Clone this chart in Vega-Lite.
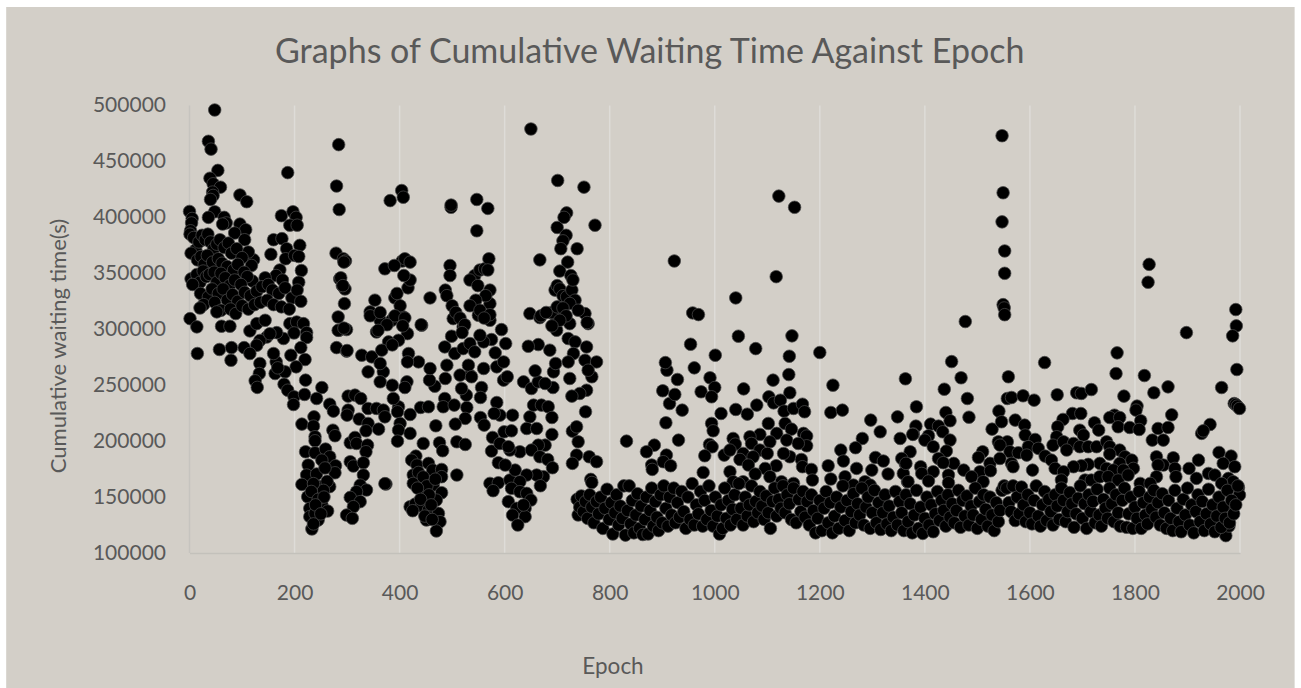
{"$schema":"https://vega.github.io/schema/vega-lite/v6.json","width":1050.5,"height":447.5,"autosize":"none","padding":{"left":189.5,"top":105.5,"right":61,"bottom":135},"background":"#ffffff","config":{"view":{"stroke":null},"font":"Lato"},
"title":{"text":"Graphs of Cumulative Waiting Time Against Epoch","font":"Lato","fontSize":34,"fontWeight":"normal","color":"#595959","anchor":"middle","dx":-65,"offset":-63,"zindex":1},
"layer":[
{"data":{"values":[{"a":-349,"b":2104,"c":588000,"d":-21000}]},"mark":{"type":"rect","color":"#D3CFC8","clip":false},"encoding":{"x":{"field":"a","type":"quantitative","scale":{"domain":[0,2000],"nice":false},"axis":{"values":[0,200,400,600,800,1000,1200,1400,1600,1800,2000],"format":"d","labelFlush":false,"labelOverlap":false,"grid":false,"ticks":false,"domain":true,"domainColor":"#C3C1BB","domainWidth":1.5,"labelFont":"Lato","labelFontSize":21,"labelColor":"#595959","labelPadding":29,"title":"Epoch","titleFont":"Lato","titleFontSize":22.5,"titleFontWeight":"normal","titleColor":"#595959","titleX":423,"titleY":102,"zindex":1}},"x2":{"field":"b"},"y":{"field":"c","type":"quantitative","scale":{"domain":[100000,500000],"nice":false},"axis":{"values":[100000,150000,200000,250000,300000,350000,400000,450000,500000],"labelOverlap":false,"grid":false,"ticks":false,"domain":false,"format":"d","labelFont":"Lato","labelFontSize":21,"labelColor":"#595959","labelPadding":24,"title":"Cumulative waiting time(s)","titleFont":"Lato","titleFontSize":22,"titleFontWeight":"normal","titleColor":"#595959","titleX":-119,"titleY":240,"zindex":1}},"y2":{"field":"d"}}},
{"data":{"values":[{"epoch":200},{"epoch":400},{"epoch":600},{"epoch":800},{"epoch":1000},{"epoch":1200},{"epoch":1400},{"epoch":1600},{"epoch":1800},{"epoch":2000}]},"mark":{"type":"rule","color":"#DEDCD8","strokeWidth":1.5},"encoding":{"x":{"field":"epoch","type":"quantitative"},"y":{"datum":100000},"y2":{"datum":500000}}},
{"data":{"values":[{"epoch":0}]},"mark":{"type":"rule","color":"#C6C4BF","strokeWidth":1.5},"encoding":{"x":{"field":"epoch","type":"quantitative"},"y":{"datum":100000},"y2":{"datum":500000}}},
{"data":{"values":[
{"epoch":48,"wait":496000},{"epoch":36,"wait":468000},{"epoch":41,"wait":461000},{"epoch":54,"wait":442000},{"epoch":39,"wait":435000},{"epoch":45,"wait":430000},{"epoch":59,"wait":427000},{"epoch":44,"wait":422600},{"epoch":45,"wait":419600},{"epoch":40,"wait":416000},{"epoch":96,"wait":420000},{"epoch":109,"wait":414000},{"epoch":0,"wait":405300},{"epoch":5,"wait":399000},{"epoch":4,"wait":395000},{"epoch":2,"wait":388000},{"epoch":1,"wait":385000},{"epoch":48,"wait":405000},{"epoch":36,"wait":400000},{"epoch":66,"wait":400000},{"epoch":70,"wait":395000},{"epoch":63,"wait":394000},{"epoch":175,"wait":401500},{"epoch":197,"wait":405000},{"epoch":203,"wait":400000},{"epoch":191,"wait":393000},{"epoch":205,"wait":393000},{"epoch":187,"wait":440000},{"epoch":284,"wait":465000},{"epoch":280,"wait":428000},{"epoch":285,"wait":407000},{"epoch":96,"wait":394000},{"epoch":107,"wait":389000},{"epoch":86,"wait":386000},{"epoch":105,"wait":380000},{"epoch":160,"wait":380000},{"epoch":176,"wait":381000},{"epoch":185,"wait":372000},{"epoch":210,"wait":375000},{"epoch":155,"wait":367000},{"epoch":183,"wait":363000},{"epoch":200,"wait":366000},{"epoch":208,"wait":365000},{"epoch":122,"wait":362000},{"epoch":118,"wait":357000},{"epoch":112,"wait":369000},{"epoch":213,"wait":352500},{"epoch":208,"wait":342000},{"epoch":172,"wait":353000},{"epoch":165,"wait":348000},{"epoch":177,"wait":344000},{"epoch":144,"wait":346000},{"epoch":120,"wait":343000},{"epoch":279,"wait":368000},{"epoch":293,"wait":363000},{"epoch":297,"wait":361000},{"epoch":286,"wait":345000},{"epoch":291,"wait":339000},{"epoch":296,"wait":336000},
{"epoch":8,"wait":382000},{"epoch":12,"wait":371000},{"epoch":3,"wait":368000},{"epoch":18,"wait":378000},{"epoch":24,"wait":384000},{"epoch":30,"wait":380000},{"epoch":35,"wait":385000},{"epoch":40,"wait":378000},{"epoch":46,"wait":372000},{"epoch":52,"wait":376000},{"epoch":58,"wait":380000},{"epoch":66,"wait":373000},{"epoch":74,"wait":377000},{"epoch":80,"wait":368000},{"epoch":90,"wait":372000},{"epoch":100,"wait":364000},{"epoch":15,"wait":362000},{"epoch":22,"wait":365000},{"epoch":28,"wait":358000},{"epoch":34,"wait":366000},{"epoch":44,"wait":360000},{"epoch":55,"wait":363000},{"epoch":62,"wait":359000},{"epoch":72,"wait":356000},{"epoch":84,"wait":353000},{"epoch":92,"wait":358000},{"epoch":104,"wait":351000},{"epoch":110,"wait":347000},{"epoch":3,"wait":345000},{"epoch":8,"wait":341000},{"epoch":14,"wait":349000},{"epoch":20,"wait":342000},{"epoch":26,"wait":352000},{"epoch":32,"wait":347000},{"epoch":38,"wait":349000},{"epoch":47,"wait":351000},{"epoch":52,"wait":342000},{"epoch":60,"wait":350000},{"epoch":68,"wait":346000},{"epoch":76,"wait":339000},{"epoch":86,"wait":344000},{"epoch":98,"wait":340000},{"epoch":6,"wait":340000},{"epoch":21,"wait":332000},{"epoch":36,"wait":329000},{"epoch":43,"wait":336000},{"epoch":55,"wait":332000},{"epoch":64,"wait":336000},{"epoch":72,"wait":326000},{"epoch":82,"wait":331000},{"epoch":92,"wait":325000},{"epoch":105,"wait":333000},{"epoch":116,"wait":330000},{"epoch":128,"wait":334000},{"epoch":138,"wait":338000},{"epoch":150,"wait":340000},{"epoch":158,"wait":335000},{"epoch":170,"wait":332000},{"epoch":182,"wait":337000},{"epoch":195,"wait":328000},{"epoch":205,"wait":335000},{"epoch":27,"wait":322000},{"epoch":48,"wait":324000},{"epoch":60,"wait":317000},{"epoch":78,"wait":318000},{"epoch":88,"wait":314000},{"epoch":100,"wait":321000},{"epoch":112,"wait":318000},{"epoch":124,"wait":322000},{"epoch":135,"wait":324000},{"epoch":148,"wait":326000},{"epoch":160,"wait":322000},{"epoch":175,"wait":320000},{"epoch":190,"wait":318000},{"epoch":212,"wait":325000},
{"epoch":1,"wait":309500},{"epoch":14,"wait":302100},{"epoch":15,"wait":278300},{"epoch":57,"wait":281900},{"epoch":80,"wait":283600},{"epoch":79,"wait":272300},{"epoch":104,"wait":283600},{"epoch":20,"wait":319000},{"epoch":52,"wait":315500},{"epoch":61,"wait":302700},{"epoch":77,"wait":302700},{"epoch":115,"wait":298500},{"epoch":128,"wait":305000},{"epoch":144,"wait":308000},{"epoch":147,"wait":293000},{"epoch":134,"wait":290000},{"epoch":128,"wait":285700},{"epoch":115,"wait":278300},{"epoch":134,"wait":269400},{"epoch":133,"wait":260400},{"epoch":125,"wait":253900},{"epoch":129,"wait":248000},{"epoch":163,"wait":260400},{"epoch":165,"wait":270800},{"epoch":160,"wait":278300},{"epoch":179,"wait":291700},{"epoch":166,"wait":297000},{"epoch":153,"wait":296000},{"epoch":191,"wait":305000},{"epoch":204,"wait":306500},{"epoch":217,"wait":305000},{"epoch":223,"wait":297000},{"epoch":223,"wait":292600},{"epoch":199,"wait":296700},{"epoch":212,"wait":283600},{"epoch":193,"wait":276800},{"epoch":220,"wait":272900},{"epoch":203,"wait":266400},{"epoch":182,"wait":261900},{"epoch":168,"wait":265500},{"epoch":180,"wait":250900},{"epoch":187,"wait":245500},{"epoch":221,"wait":254500},{"epoch":199,"wait":239600},{"epoch":198,"wait":232700},{"epoch":219,"wait":241700},{"epoch":252,"wait":247900},{"epoch":242,"wait":238100},{"epoch":267,"wait":233000},{"epoch":274,"wait":226800},{"epoch":302,"wait":240200},{"epoch":315,"wait":241100},{"epoch":326,"wait":238100},{"epoch":302,"wait":227700},{"epoch":300,"wait":223200},{"epoch":340,"wait":229200},{"epoch":356,"wait":229200},{"epoch":369,"wait":227700},{"epoch":372,"wait":221700},{"epoch":398,"wait":230700},{"epoch":396,"wait":226200},{"epoch":420,"wait":223800},{"epoch":440,"wait":230100},{"epoch":455,"wait":230700},{"epoch":486,"wait":238100},{"epoch":483,"wait":230700},{"epoch":504,"wait":232200},{"epoch":528,"wait":230100},{"epoch":525,"wait":220300},{"epoch":554,"wait":221100},{"epoch":561,"wait":214300},{"epoch":469,"wait":213700},{"epoch":506,"wait":215200},{"epoch":323,"wait":219700},{"epoch":340,"wait":215800},{"epoch":360,"wait":210700},{"epoch":336,"wait":209200},{"epoch":401,"wait":215800},{"epoch":398,"wait":209800},{"epoch":420,"wait":206900},{"epoch":396,"wait":200000},{"epoch":445,"wait":197900},{"epoch":476,"wait":198500},{"epoch":482,"wait":191400},{"epoch":509,"wait":199400},{"epoch":525,"wait":197000},{"epoch":214,"wait":215200},{"epoch":237,"wait":221700},{"epoch":236,"wait":213400},{"epoch":239,"wait":203900},{"epoch":239,"wait":200300},{"epoch":273,"wait":209800},{"epoch":277,"wait":204800},{"epoch":306,"wait":198500},{"epoch":315,"wait":203300},{"epoch":318,"wait":197900},{"epoch":339,"wait":196400},{"epoch":336,"wait":190500},{"epoch":221,"wait":190500},{"epoch":239,"wait":189600},{"epoch":259,"wait":192900},{"epoch":267,"wait":186000},{"epoch":278,"wait":178000},{"epoch":277,"wait":171700},{"epoch":252,"wait":183000},{"epoch":306,"wait":181600},{"epoch":312,"wait":177700},{"epoch":331,"wait":180700},{"epoch":226,"wait":178600},{"epoch":223,"wait":169700},{"epoch":242,"wait":170600},{"epoch":331,"wait":169700},{"epoch":325,"wait":160700},{"epoch":214,"wait":161300},{"epoch":267,"wait":159300},{"epoch":248,"wait":159300},{"epoch":337,"wait":156300},{"epoch":318,"wait":154800},{"epoch":306,"wait":149700},{"epoch":325,"wait":145900},{"epoch":312,"wait":141400},{"epoch":299,"wait":133900},{"epoch":310,"wait":131000},{"epoch":374,"wait":161600},{"epoch":225,"wait":150300},{"epoch":229,"wait":139900},{"epoch":252,"wait":142900},{"epoch":263,"wait":137500},{"epoch":245,"wait":129500},{"epoch":233,"wait":121500},{"epoch":229,"wait":132500},{"epoch":239,"wait":135400},{"epoch":258,"wait":176000},{"epoch":262,"wait":164000},{"epoch":255,"wait":156000},{"epoch":236,"wait":162000},{"epoch":232,"wait":155000},{"epoch":245,"wait":148000},{"epoch":256,"wait":150000},{"epoch":240,"wait":143000},{"epoch":236,"wait":126000},{"epoch":250,"wait":135000},
{"epoch":431,"wait":186600},{"epoch":423,"wait":183000},{"epoch":433,"wait":178600},{"epoch":426,"wait":169700},{"epoch":439,"wait":165200},{"epoch":455,"wait":180100},{"epoch":463,"wait":174100},{"epoch":480,"wait":174700},{"epoch":480,"wait":168200},{"epoch":509,"wait":169700},{"epoch":426,"wait":162200},{"epoch":445,"wait":154800},{"epoch":464,"wait":160700},{"epoch":480,"wait":153900},{"epoch":470,"wait":147300},{"epoch":420,"wait":141400},{"epoch":430,"wait":143800},{"epoch":442,"wait":142000},{"epoch":455,"wait":138400},{"epoch":474,"wait":135400},{"epoch":451,"wait":129500},{"epoch":477,"wait":128000},{"epoch":470,"wait":119700},{"epoch":425,"wait":137800},{"epoch":436,"wait":172000},{"epoch":445,"wait":168000},{"epoch":452,"wait":160000},{"epoch":434,"wait":158000},{"epoch":456,"wait":152000},{"epoch":468,"wait":166000},{"epoch":440,"wait":148000},{"epoch":460,"wait":143000},{"epoch":448,"wait":133000},{"epoch":462,"wait":130000},{"epoch":572,"wait":162200},{"epoch":588,"wait":162800},{"epoch":578,"wait":155700},{"epoch":607,"wait":145900},{"epoch":610,"wait":165200},{"epoch":620,"wait":174100},{"epoch":588,"wait":180700},{"epoch":601,"wait":178600},{"epoch":629,"wait":190500},{"epoch":610,"wait":192000},{"epoch":575,"wait":191100},{"epoch":577,"wait":203300},{"epoch":591,"wait":197900},{"epoch":607,"wait":195000},{"epoch":599,"wait":208300},{"epoch":613,"wait":209200},{"epoch":615,"wait":223200},{"epoch":591,"wait":223200},{"epoch":585,"wait":234500},{"epoch":580,"wait":224700},{"epoch":648,"wait":221700},{"epoch":642,"wait":211300},{"epoch":661,"wait":211300},{"epoch":655,"wait":232200},{"epoch":670,"wait":232200},{"epoch":683,"wait":230700},{"epoch":690,"wait":221100},{"epoch":690,"wait":206000},{"epoch":677,"wait":196400},{"epoch":664,"wait":196400},{"epoch":651,"wait":192000},{"epoch":667,"wait":186000},{"epoch":682,"wait":183600},{"epoch":691,"wait":176200},{"epoch":674,"wait":168200},{"epoch":661,"wait":169700},{"epoch":642,"wait":169700},{"epoch":668,"wait":160100},{"epoch":629,"wait":163700},{"epoch":613,"wait":157800},{"epoch":629,"wait":154800},{"epoch":642,"wait":153300},{"epoch":650,"wait":147300},{"epoch":639,"wait":139900},{"epoch":623,"wait":139900},{"epoch":639,"wait":132500},{"epoch":615,"wait":133900},{"epoch":625,"wait":125000},{"epoch":636,"wait":142900},{"epoch":729,"wait":208900},{"epoch":737,"wait":212800},{"epoch":740,"wait":199400},{"epoch":737,"wait":187500},{"epoch":729,"wait":180100},{"epoch":761,"wait":186000},{"epoch":775,"wait":181600},{"epoch":764,"wait":165800},{"epoch":766,"wait":163000},{"epoch":754,"wait":226200},{"epoch":636,"wait":253000},{"epoch":651,"wait":247000},{"epoch":664,"wait":253000},{"epoch":692,"wait":247900},{"epoch":677,"wait":251500},{"epoch":658,"wait":262800},{"epoch":693,"wait":261900},{"epoch":697,"wait":269400},{"epoch":686,"wait":281300},{"epoch":664,"wait":286300},{"epoch":645,"wait":284800},{"epoch":598,"wait":254500},{"epoch":605,"wait":257500},{"epoch":585,"wait":266400},{"epoch":598,"wait":270800},{"epoch":582,"wait":278900},{"epoch":602,"wait":287200},{"epoch":594,"wait":299700},{"epoch":575,"wait":290800},{"epoch":560,"wait":264900},{"epoch":556,"wait":247900},{"epoch":554,"wait":239000},{"epoch":527,"wait":241100},{"epoch":534,"wait":258900},{"epoch":518,"wait":247000},{"epoch":515,"wait":259000},{"epoch":487,"wait":256000},{"epoch":467,"wait":249100},{"epoch":457,"wait":254500},{"epoch":458,"wait":264900},{"epoch":436,"wait":270800},{"epoch":417,"wait":278300},{"epoch":415,"wait":270800},{"epoch":414,"wait":253000},{"epoch":410,"wait":247900},{"epoch":388,"wait":238100},{"epoch":386,"wait":250000},{"epoch":369,"wait":261900},{"epoch":363,"wait":253000},{"epoch":340,"wait":261900},{"epoch":328,"wait":276800},{"epoch":347,"wait":275300},{"epoch":363,"wait":269400},{"epoch":280,"wait":283600},{"epoch":299,"wait":280400},{"epoch":285,"wait":299100},{"epoch":299,"wait":299700},{"epoch":283,"wait":311000},{"epoch":295,"wait":322900},{"epoch":344,"wait":315500},{"epoch":363,"wait":308000},{"epoch":385,"wait":308000},{"epoch":407,"wait":311000},{"epoch":442,"wait":303600},{"epoch":356,"wait":297600},{"epoch":415,"wait":296100},{"epoch":398,"wait":290200},{"epoch":379,"wait":288700},{"epoch":366,"wait":281300},{"epoch":499,"wait":293800},{"epoch":486,"wait":284200},{"epoch":505,"wait":278300},{"epoch":490,"wait":267900},{"epoch":521,"wait":282700},{"epoch":534,"wait":287200},{"epoch":531,"wait":267900},{"epoch":537,"wait":257500},{"epoch":560,"wait":288700},{"epoch":543,"wait":279800},{"epoch":553,"wait":294600},{"epoch":521,"wait":302100},{"epoch":502,"wait":309500},{"epoch":550,"wait":312500},{"epoch":572,"wait":308000},{"epoch":572,"wait":322900},{"epoch":648,"wait":314000},{"epoch":667,"wait":310400},{"epoch":696,"wait":312500},{"epoch":724,"wait":305000},{"epoch":753,"wait":314000},{"epoch":759,"wait":305000},{"epoch":699,"wait":299100},{"epoch":721,"wait":291700},{"epoch":734,"wait":288700},{"epoch":731,"wait":278300},{"epoch":756,"wait":284200},{"epoch":721,"wait":270800},{"epoch":753,"wait":272300},{"epoch":775,"wait":270800},{"epoch":724,"wait":256000},{"epoch":766,"wait":257500},{"epoch":756,"wait":245500},{"epoch":743,"wait":242600},{"epoch":728,"wait":240200},{"epoch":759,"wait":263400},
{"epoch":382,"wait":415000},{"epoch":404,"wait":424000},{"epoch":407,"wait":418000},{"epoch":372,"wait":354000},{"epoch":405,"wait":361000},{"epoch":410,"wait":363000},{"epoch":390,"wait":357000},{"epoch":420,"wait":360000},{"epoch":372,"wait":162000},{"epoch":498,"wait":409000},{"epoch":498,"wait":411000},{"epoch":547,"wait":416000},{"epoch":568,"wait":408000},{"epoch":547,"wait":388000},{"epoch":650,"wait":479000},{"epoch":701,"wait":433000},{"epoch":751,"wait":427000},{"epoch":667,"wait":362000},{"epoch":772,"wait":393000},{"epoch":700,"wait":391000},{"epoch":718,"wait":404000},{"epoch":713,"wait":400000},{"epoch":717,"wait":384000},{"epoch":711,"wait":379000},{"epoch":707,"wait":372000},{"epoch":738,"wait":372000},{"epoch":720,"wait":360000},{"epoch":705,"wait":352000},{"epoch":726,"wait":348000},{"epoch":288,"wait":346000},{"epoch":292,"wait":339000},{"epoch":294,"wait":360000},{"epoch":283,"wait":299000},{"epoch":294,"wait":301000},{"epoch":300,"wait":281000},{"epoch":353,"wait":326000},{"epoch":391,"wait":328000},{"epoch":401,"wait":321000},{"epoch":391,"wait":312000},{"epoch":410,"wait":310000},{"epoch":376,"wait":304000},{"epoch":406,"wait":303000},{"epoch":344,"wait":312000},{"epoch":363,"wait":315000},{"epoch":359,"wait":299000},{"epoch":386,"wait":286000},{"epoch":395,"wait":332000},{"epoch":416,"wait":337000},{"epoch":420,"wait":344000},{"epoch":408,"wait":348000},{"epoch":441,"wait":304000},{"epoch":496,"wait":357000},{"epoch":496,"wait":348000},{"epoch":487,"wait":335000},{"epoch":490,"wait":330000},{"epoch":500,"wait":321000},{"epoch":507,"wait":315000},{"epoch":515,"wait":310000},{"epoch":524,"wait":304000},{"epoch":543,"wait":348000},{"epoch":553,"wait":353000},{"epoch":562,"wait":354000},{"epoch":570,"wait":363000},{"epoch":568,"wait":353000},{"epoch":534,"wait":344000},{"epoch":549,"wait":339000},{"epoch":572,"wait":335000},{"epoch":564,"wait":330000},{"epoch":545,"wait":326000},{"epoch":534,"wait":321000},{"epoch":553,"wait":317000},{"epoch":572,"wait":313000},{"epoch":561,"wait":310000},{"epoch":519,"wait":297000},{"epoch":458,"wait":328000},{"epoch":669,"wait":312000},{"epoch":690,"wait":315000},{"epoch":700,"wait":320000},{"epoch":696,"wait":335000},{"epoch":700,"wait":339000},{"epoch":705,"wait":336000},{"epoch":711,"wait":330000},{"epoch":718,"wait":329000},{"epoch":728,"wait":335000},{"epoch":730,"wait":344000},{"epoch":734,"wait":326000},{"epoch":724,"wait":323000},{"epoch":711,"wait":319000},{"epoch":717,"wait":312000},{"epoch":740,"wait":317000},{"epoch":757,"wait":306000},{"epoch":705,"wait":308000},{"epoch":690,"wait":303000},{"epoch":679,"wait":315000},
{"epoch":832,"wait":200000},{"epoch":885,"wait":196400},{"epoch":870,"wait":190500},{"epoch":880,"wait":178600},{"epoch":881,"wait":174700},{"epoch":908,"wait":187500},{"epoch":902,"wait":181600},{"epoch":916,"wait":178000},{"epoch":931,"wait":200900},{"epoch":907,"wait":216400},{"epoch":938,"wait":227700},{"epoch":914,"wait":233600},{"epoch":924,"wait":241700},{"epoch":901,"wait":245000},{"epoch":929,"wait":255100},{"epoch":909,"wait":263400},{"epoch":906,"wait":270200},{"epoch":961,"wait":265500},{"epoch":954,"wait":286600},{"epoch":958,"wait":314600},{"epoch":969,"wait":313100},{"epoch":1001,"wait":276800},{"epoch":991,"wait":256600},{"epoch":1000,"wait":247900},{"epoch":974,"wait":244100},{"epoch":994,"wait":239600},{"epoch":1012,"wait":224700},{"epoch":994,"wait":215800},{"epoch":997,"wait":209200},{"epoch":990,"wait":197000},{"epoch":995,"wait":194900},{"epoch":981,"wait":186900},{"epoch":978,"wait":172000},{"epoch":1018,"wait":187500},{"epoch":1045,"wait":293800},{"epoch":1078,"wait":282700},{"epoch":1040,"wait":328000},{"epoch":1147,"wait":294100},{"epoch":1142,"wait":275900},{"epoch":1141,"wait":259500},{"epoch":1143,"wait":243200},{"epoch":1200,"wait":279200},{"epoch":1111,"wait":254500},{"epoch":1055,"wait":246700},{"epoch":1103,"wait":239600},{"epoch":1112,"wait":234200},{"epoch":1125,"wait":236600},{"epoch":1080,"wait":232200},{"epoch":1040,"wait":228300},{"epoch":1062,"wait":224100},{"epoch":1132,"wait":226800},{"epoch":1150,"wait":229200},{"epoch":1167,"wait":233000},{"epoch":1171,"wait":226200},{"epoch":1102,"wait":215800},{"epoch":1134,"wait":215800},{"epoch":1146,"wait":210700},{"epoch":1086,"wait":206000},{"epoch":1067,"wait":203900},{"epoch":1035,"wait":202400},{"epoch":1169,"wait":206900},{"epoch":1175,"wait":204500},{"epoch":1175,"wait":195800},{"epoch":1118,"wait":206900},{"epoch":1137,"wait":200900},{"epoch":1159,"wait":197900},{"epoch":1105,"wait":199400},{"epoch":1070,"wait":197900},{"epoch":1039,"wait":197300},{"epoch":1029,"wait":192000},{"epoch":1086,"wait":192000},{"epoch":1054,"wait":189000},{"epoch":1100,"wait":189000},{"epoch":1073,"wait":186000},{"epoch":1143,"wait":186000},{"epoch":1131,"wait":189000},{"epoch":1165,"wait":183600},{"epoch":1048,"wait":183600},{"epoch":1064,"wait":178600},{"epoch":1117,"wait":178000},{"epoch":1167,"wait":177100},{"epoch":1096,"wait":175600},{"epoch":1029,"wait":172600},{"epoch":1184,"wait":174700},{"epoch":1077,"wait":170600},{"epoch":1105,"wait":168200},{"epoch":1186,"wait":165200},{"epoch":1127,"wait":163700},{"epoch":1054,"wait":163700},{"epoch":1035,"wait":163700},{"epoch":1150,"wait":162200},{"epoch":1122,"wait":419000},{"epoch":1152,"wait":409000},{"epoch":1117,"wait":347000},{"epoch":923,"wait":361000},{"epoch":1216,"wait":178000},{"epoch":1225,"wait":250000},{"epoch":1221,"wait":225600},{"epoch":1243,"wait":227700},{"epoch":1363,"wait":255700},{"epoch":1297,"wait":218800},{"epoch":1348,"wait":221700},{"epoch":1315,"wait":208300},{"epoch":1353,"wait":202400},{"epoch":1281,"wait":202400},{"epoch":1268,"wait":194100},{"epoch":1240,"wait":192000},{"epoch":1384,"wait":230700},{"epoch":1383,"wait":213400},{"epoch":1378,"wait":206300},{"epoch":1372,"wait":190500},{"epoch":1306,"wait":185400},{"epoch":1321,"wait":182200},{"epoch":1245,"wait":182200},{"epoch":1270,"wait":175600},{"epoch":1299,"wait":174100},{"epoch":1363,"wait":179500},{"epoch":1356,"wait":184500},{"epoch":1330,"wait":170600},{"epoch":1367,"wait":163700},{"epoch":1248,"wait":168200},{"epoch":1221,"wait":166100},{"epoch":1286,"wait":163700},{"epoch":1296,"wait":160700},{"epoch":1264,"wait":160700},{"epoch":1359,"wait":171100},
{"epoch":1477,"wait":306900},{"epoch":1451,"wait":271100},{"epoch":1469,"wait":256600},{"epoch":1437,"wait":246400},{"epoch":1481,"wait":238100},{"epoch":1484,"wait":221400},{"epoch":1440,"wait":225600},{"epoch":1448,"wait":218200},{"epoch":1411,"wait":215200},{"epoch":1426,"wait":213400},{"epoch":1377,"wait":206000},{"epoch":1407,"wait":204800},{"epoch":1434,"wait":208300},{"epoch":1448,"wait":200900},{"epoch":1400,"wait":200900},{"epoch":1416,"wait":195000},{"epoch":1441,"wait":191100},{"epoch":1426,"wait":184500},{"epoch":1455,"wait":180100},{"epoch":1435,"wait":180700},{"epoch":1364,"wait":180100},{"epoch":1392,"wait":177100},{"epoch":1474,"wait":174100},{"epoch":1416,"wait":172600},{"epoch":1394,"wait":171100},{"epoch":1445,"wait":169700},{"epoch":1505,"wait":172600},{"epoch":1524,"wait":180100},{"epoch":1525,"wait":173500},{"epoch":1510,"wait":190500},{"epoch":1502,"wait":185400},{"epoch":1489,"wait":168200},{"epoch":1445,"wait":162800},{"epoch":1407,"wait":164300},{"epoch":1368,"wait":163700},{"epoch":1511,"wait":163700},{"epoch":1528,"wait":210700},{"epoch":1541,"wait":226800},{"epoch":1546,"wait":217300},{"epoch":1559,"wait":257500},{"epoch":1557,"wait":238100},{"epoch":1565,"wait":239000},{"epoch":1587,"wait":240500},{"epoch":1608,"wait":236600},{"epoch":1572,"wait":218800},{"epoch":1590,"wait":214300},{"epoch":1591,"wait":205400},{"epoch":1540,"wait":199400},{"epoch":1557,"wait":199400},{"epoch":1610,"wait":201500},{"epoch":1543,"wait":196400},{"epoch":1562,"wait":190500},{"epoch":1578,"wait":189600},{"epoch":1597,"wait":195000},{"epoch":1616,"wait":193500},{"epoch":1594,"wait":187500},{"epoch":1543,"wait":184500},{"epoch":1565,"wait":180100},{"epoch":1568,"wait":177100},{"epoch":1605,"wait":174100},{"epoch":1629,"wait":186600},{"epoch":1641,"wait":183000},{"epoch":1648,"wait":175600},{"epoch":1628,"wait":270200},{"epoch":1652,"wait":241400},{"epoch":1689,"wait":243200},{"epoch":1698,"wait":242600},{"epoch":1717,"wait":246100},{"epoch":1681,"wait":224700},{"epoch":1697,"wait":224700},{"epoch":1663,"wait":219400},{"epoch":1653,"wait":212800},{"epoch":1723,"wait":216400},{"epoch":1731,"wait":209800},{"epoch":1695,"wait":209800},{"epoch":1702,"wait":205400},{"epoch":1651,"wait":203900},{"epoch":1644,"wait":196400},{"epoch":1664,"wait":199400},{"epoch":1683,"wait":197900},{"epoch":1670,"wait":192000},{"epoch":1695,"wait":195000},{"epoch":1711,"wait":195000},{"epoch":1727,"wait":195000},{"epoch":1746,"wait":199400},{"epoch":1752,"wait":195000},{"epoch":1771,"wait":192000},{"epoch":1752,"wait":188400},{"epoch":1781,"wait":186000},{"epoch":1794,"wait":183000},{"epoch":1771,"wait":180100},{"epoch":1733,"wait":180100},{"epoch":1711,"wait":179200},{"epoch":1698,"wait":178000},{"epoch":1683,"wait":177100},{"epoch":1664,"wait":172600},{"epoch":1797,"wait":175600},{"epoch":1746,"wait":175600},{"epoch":1759,"wait":174100},{"epoch":1778,"wait":174100},{"epoch":1660,"wait":165200},{"epoch":1705,"wait":165200},{"epoch":1717,"wait":165200},{"epoch":1733,"wait":168200},{"epoch":1749,"wait":168200},{"epoch":1768,"wait":165200},{"epoch":1787,"wait":169700},{"epoch":1766,"wait":278900},{"epoch":1764,"wait":260400},{"epoch":1818,"wait":258600},{"epoch":1836,"wait":243200},{"epoch":1863,"wait":248500},{"epoch":1779,"wait":240200},{"epoch":1804,"wait":231300},{"epoch":1802,"wait":227700},{"epoch":1870,"wait":223500},{"epoch":1761,"wait":223200},{"epoch":1752,"wait":221100},{"epoch":1771,"wait":221100},{"epoch":1811,"wait":218200},{"epoch":1844,"wait":211300},{"epoch":1863,"wait":212200},{"epoch":1768,"wait":212800},{"epoch":1790,"wait":212200},{"epoch":1808,"wait":210400},{"epoch":1833,"wait":200900},{"epoch":1854,"wait":200900},{"epoch":1841,"wait":186000},{"epoch":1873,"wait":185100},{"epoch":1854,"wait":178600},{"epoch":1876,"wait":175600},{"epoch":1844,"wait":178600},{"epoch":1878,"wait":168200},{"epoch":1841,"wait":168200},{"epoch":1810,"wait":162200},{"epoch":1829,"wait":162200},{"epoch":1827,"wait":358000},{"epoch":1825,"wait":342000},{"epoch":1547,"wait":473000},{"epoch":1549,"wait":422000},{"epoch":1547,"wait":396000},{"epoch":1552,"wait":370000},{"epoch":1552,"wait":350000},{"epoch":1549,"wait":322000},{"epoch":1551,"wait":319000},{"epoch":1552,"wait":313000},{"epoch":1898,"wait":297000},{"epoch":1992,"wait":317600},{"epoch":1993,"wait":303000},{"epoch":1986,"wait":294100},{"epoch":1994,"wait":264000},{"epoch":1965,"wait":247900},{"epoch":1989,"wait":233600},{"epoch":1992,"wait":232700},{"epoch":1995,"wait":231300},{"epoch":1999,"wait":229200},{"epoch":1943,"wait":214900},{"epoch":1927,"wait":206900},{"epoch":1930,"wait":209200},{"epoch":1960,"wait":189900},{"epoch":1983,"wait":186600},{"epoch":1968,"wait":180100},{"epoch":1990,"wait":177100},{"epoch":1921,"wait":183000},{"epoch":1903,"wait":175600},{"epoch":1917,"wait":166700},{"epoch":1940,"wait":171100},{"epoch":1952,"wait":169700},{"epoch":1978,"wait":166700},{"epoch":1987,"wait":163700},{"epoch":1997,"wait":158300},{"epoch":1999,"wait":151800},{"epoch":1965,"wait":162200},{"epoch":1986,"wait":141400},{"epoch":1973,"wait":115500},{"epoch":1979,"wait":124100},
{"epoch":738,"wait":148000},{"epoch":740,"wait":134000},{"epoch":743,"wait":141000},{"epoch":746,"wait":151000},{"epoch":750,"wait":137000},{"epoch":754,"wait":146000},{"epoch":758,"wait":131000},{"epoch":762,"wait":152000},{"epoch":766,"wait":141000},{"epoch":770,"wait":127000},{"epoch":775,"wait":146000},{"epoch":779,"wait":135000},{"epoch":783,"wait":150000},{"epoch":787,"wait":122000},{"epoch":791,"wait":140000},{"epoch":795,"wait":157000},{"epoch":799,"wait":130000},{"epoch":803,"wait":145000},{"epoch":806,"wait":117000},{"epoch":810,"wait":136000},{"epoch":813,"wait":152000},{"epoch":817,"wait":125000},{"epoch":820,"wait":142000},{"epoch":824,"wait":131000},{"epoch":827,"wait":160000},{"epoch":830,"wait":116000},{"epoch":834,"wait":138000},{"epoch":837,"wait":160000},{"epoch":840,"wait":126000},{"epoch":843,"wait":147000},{"epoch":846,"wait":118000},{"epoch":850,"wait":134000},{"epoch":853,"wait":153000},{"epoch":857,"wait":122000},{"epoch":860,"wait":142000},{"epoch":863,"wait":116500},{"epoch":867,"wait":130000},{"epoch":870,"wait":150000},{"epoch":873,"wait":117000},{"epoch":877,"wait":138000},{"epoch":880,"wait":158000},{"epoch":883,"wait":124000},{"epoch":887,"wait":146000},{"epoch":890,"wait":132000},{"epoch":893,"wait":120000},{"epoch":897,"wait":152000},{"epoch":900,"wait":127000},{"epoch":903,"wait":160000},{"epoch":907,"wait":140000},{"epoch":911,"wait":124000},{"epoch":914,"wait":150000},{"epoch":918,"wait":134000},{"epoch":922,"wait":158000},{"epoch":925,"wait":127000},{"epoch":929,"wait":145000},{"epoch":933,"wait":132000},{"epoch":937,"wait":155000},{"epoch":941,"wait":137000},{"epoch":945,"wait":122000},{"epoch":949,"wait":150000},{"epoch":953,"wait":130000},{"epoch":957,"wait":162000},{"epoch":961,"wait":125000},{"epoch":965,"wait":143000},{"epoch":969,"wait":135000},{"epoch":973,"wait":155000},{"epoch":977,"wait":124000},{"epoch":981,"wait":147000},{"epoch":985,"wait":130000},{"epoch":989,"wait":160000},{"epoch":993,"wait":138000},{"epoch":997,"wait":124000},{"epoch":1001,"wait":150000},{"epoch":1005,"wait":133000},{"epoch":1009,"wait":117000},{"epoch":1012,"wait":143000},{"epoch":1015,"wait":122000},{"epoch":1019,"wait":158000},{"epoch":1022,"wait":131000},{"epoch":1026,"wait":147000},{"epoch":1030,"wait":125000},{"epoch":1034,"wait":139000},{"epoch":1038,"wait":152000},{"epoch":1042,"wait":130000},{"epoch":1046,"wait":162000},{"epoch":1050,"wait":140000},{"epoch":1054,"wait":125000},{"epoch":1058,"wait":150000},{"epoch":1062,"wait":133000},{"epoch":1066,"wait":143000},{"epoch":1070,"wait":160000},{"epoch":1074,"wait":128000},{"epoch":1078,"wait":146000},{"epoch":1082,"wait":136000},{"epoch":1086,"wait":155000},{"epoch":1090,"wait":142000},{"epoch":1094,"wait":130000},{"epoch":1098,"wait":151000},{"epoch":1102,"wait":136000},{"epoch":1106,"wait":122000},{"epoch":1110,"wait":146000},{"epoch":1114,"wait":158000},{"epoch":1118,"wait":133000},{"epoch":1122,"wait":148000},{"epoch":1126,"wait":140000},{"epoch":1130,"wait":160000},{"epoch":1134,"wait":136000},{"epoch":1138,"wait":152000},{"epoch":1142,"wait":144000},{"epoch":1146,"wait":130000},{"epoch":1150,"wait":158000},{"epoch":1155,"wait":127000},{"epoch":1160,"wait":148000},{"epoch":1164,"wait":137000},{"epoch":1168,"wait":155000},{"epoch":1172,"wait":132000},{"epoch":1176,"wait":146000},{"epoch":1180,"wait":125000},{"epoch":1184,"wait":152000},{"epoch":1188,"wait":138000},{"epoch":1192,"wait":118000},{"epoch":1196,"wait":131000},{"epoch":1200,"wait":147000},{"epoch":1204,"wait":120000},{"epoch":1208,"wait":140000},{"epoch":1212,"wait":155000},{"epoch":1216,"wait":127000},{"epoch":1220,"wait":145000},{"epoch":1224,"wait":118000},{"epoch":1228,"wait":133000},{"epoch":1232,"wait":150000},{"epoch":1236,"wait":122000},{"epoch":1240,"wait":141000},{"epoch":1244,"wait":160000},{"epoch":1248,"wait":129000},{"epoch":1252,"wait":147000},{"epoch":1256,"wait":120000},{"epoch":1260,"wait":137000},{"epoch":1264,"wait":153000},{"epoch":1268,"wait":127000},{"epoch":1272,"wait":144000},{"epoch":1276,"wait":134000},{"epoch":1280,"wait":158000},{"epoch":1284,"wait":125000},{"epoch":1288,"wait":141000},{"epoch":1292,"wait":150000},{"epoch":1296,"wait":122000},{"epoch":1300,"wait":136000},{"epoch":1304,"wait":156000},{"epoch":1308,"wait":127000},{"epoch":1312,"wait":145000},{"epoch":1316,"wait":121000},{"epoch":1320,"wait":136000},{"epoch":1324,"wait":152000},{"epoch":1328,"wait":126000},{"epoch":1332,"wait":142000},{"epoch":1336,"wait":120000},{"epoch":1340,"wait":132000},{"epoch":1344,"wait":155000},{"epoch":1348,"wait":125000},{"epoch":1352,"wait":146000},{"epoch":1356,"wait":136000},{"epoch":1360,"wait":120000},{"epoch":1364,"wait":152000},{"epoch":1368,"wait":128000},{"epoch":1372,"wait":144000},{"epoch":1376,"wait":118000},{"epoch":1380,"wait":134000},{"epoch":1384,"wait":156000},{"epoch":1388,"wait":122000},{"epoch":1392,"wait":141000},{"epoch":1396,"wait":117500},{"epoch":1400,"wait":131000},{"epoch":1404,"wait":150000},{"epoch":1408,"wait":125000},{"epoch":1412,"wait":143000},{"epoch":1416,"wait":119000},{"epoch":1420,"wait":135000},{"epoch":1424,"wait":155000},{"epoch":1428,"wait":129000},{"epoch":1432,"wait":147000},{"epoch":1436,"wait":138000},{"epoch":1440,"wait":124000},{"epoch":1444,"wait":152000},{"epoch":1448,"wait":132000},{"epoch":1452,"wait":144000},{"epoch":1456,"wait":127000},{"epoch":1460,"wait":138000},{"epoch":1464,"wait":156000},{"epoch":1468,"wait":123000},{"epoch":1472,"wait":147000},{"epoch":1476,"wait":133000},{"epoch":1480,"wait":151000},{"epoch":1484,"wait":125000},{"epoch":1488,"wait":142000},{"epoch":1492,"wait":134000},{"epoch":1496,"wait":158000},{"epoch":1500,"wait":122000},{"epoch":1504,"wait":146000},{"epoch":1508,"wait":130000},{"epoch":1512,"wait":152000},{"epoch":1516,"wait":139000},{"epoch":1520,"wait":124000},{"epoch":1524,"wait":150000},{"epoch":1528,"wait":134000},{"epoch":1532,"wait":120000},{"epoch":1536,"wait":145000},{"epoch":1540,"wait":128000},{"epoch":1543,"wait":138000},{"epoch":1547,"wait":156000},{"epoch":1551,"wait":160000},{"epoch":1556,"wait":158000},{"epoch":1560,"wait":145000},{"epoch":1564,"wait":137000},{"epoch":1568,"wait":160000},{"epoch":1572,"wait":129000},{"epoch":1576,"wait":150000},{"epoch":1580,"wait":135000},{"epoch":1584,"wait":159000},{"epoch":1588,"wait":143000},{"epoch":1592,"wait":128000},{"epoch":1596,"wait":152000},{"epoch":1600,"wait":136000},{"epoch":1604,"wait":126000},{"epoch":1608,"wait":147000},{"epoch":1612,"wait":160000},{"epoch":1616,"wait":133000},{"epoch":1620,"wait":124000},{"epoch":1624,"wait":143000},{"epoch":1628,"wait":155000},{"epoch":1632,"wait":129000},{"epoch":1636,"wait":148000},{"epoch":1640,"wait":137000},{"epoch":1644,"wait":125000},{"epoch":1648,"wait":152000},{"epoch":1652,"wait":142000},{"epoch":1656,"wait":130000},{"epoch":1660,"wait":158000},{"epoch":1664,"wait":147000},{"epoch":1668,"wait":128000},{"epoch":1672,"wait":137000},{"epoch":1676,"wait":154000},{"epoch":1680,"wait":144000},{"epoch":1684,"wait":123000},{"epoch":1688,"wait":135000},{"epoch":1692,"wait":149000},{"epoch":1696,"wait":160000},{"epoch":1700,"wait":131000},{"epoch":1704,"wait":144000},{"epoch":1708,"wait":122000},{"epoch":1712,"wait":152000},{"epoch":1716,"wait":137000},{"epoch":1720,"wait":146000},{"epoch":1724,"wait":127000},{"epoch":1728,"wait":157000},{"epoch":1732,"wait":134000},{"epoch":1736,"wait":124000},{"epoch":1740,"wait":148000},{"epoch":1744,"wait":140000},{"epoch":1748,"wait":131000},{"epoch":1752,"wait":158000},{"epoch":1756,"wait":144000},{"epoch":1760,"wait":128000},{"epoch":1764,"wait":152000},{"epoch":1768,"wait":136000},{"epoch":1772,"wait":124000},{"epoch":1776,"wait":147000},{"epoch":1780,"wait":158000},{"epoch":1784,"wait":123000},{"epoch":1788,"wait":135000},{"epoch":1792,"wait":150000},{"epoch":1796,"wait":122000},{"epoch":1800,"wait":141000},{"epoch":1804,"wait":131000},{"epoch":1808,"wait":155000},{"epoch":1812,"wait":122000},{"epoch":1816,"wait":145000},{"epoch":1820,"wait":134000},{"epoch":1824,"wait":126000},{"epoch":1828,"wait":150000},{"epoch":1832,"wait":139000},{"epoch":1836,"wait":156000},{"epoch":1840,"wait":132000},{"epoch":1844,"wait":145000},{"epoch":1848,"wait":125000},{"epoch":1852,"wait":153000},{"epoch":1856,"wait":136000},{"epoch":1860,"wait":122000},{"epoch":1864,"wait":147000},{"epoch":1868,"wait":131000},{"epoch":1872,"wait":120000},{"epoch":1876,"wait":156000},{"epoch":1880,"wait":140000},{"epoch":1884,"wait":128000},{"epoch":1888,"wait":119000},{"epoch":1892,"wait":148000},{"epoch":1896,"wait":134000},{"epoch":1900,"wait":158000},{"epoch":1904,"wait":125000},{"epoch":1908,"wait":143000},{"epoch":1912,"wait":118000},{"epoch":1916,"wait":137000},{"epoch":1920,"wait":152000},{"epoch":1924,"wait":128000},{"epoch":1928,"wait":146000},{"epoch":1932,"wait":120000},{"epoch":1936,"wait":135000},{"epoch":1940,"wait":157000},{"epoch":1944,"wait":126000},{"epoch":1948,"wait":143000},{"epoch":1952,"wait":119000},{"epoch":1956,"wait":133000},{"epoch":1960,"wait":150000},{"epoch":1964,"wait":123000},{"epoch":1968,"wait":141000},{"epoch":1972,"wait":131000},{"epoch":1976,"wait":156000},{"epoch":1980,"wait":127000},{"epoch":1984,"wait":147000},{"epoch":1988,"wait":135000},{"epoch":1992,"wait":143000},{"epoch":1996,"wait":160000}
]},"mark":{"type":"point","filled":true,"fill":"#000000","stroke":"#4a4a4a","strokeWidth":0.75,"opacity":1,"size":158},"encoding":{"x":{"field":"epoch","type":"quantitative"},"y":{"field":"wait","type":"quantitative"}}}
]}
